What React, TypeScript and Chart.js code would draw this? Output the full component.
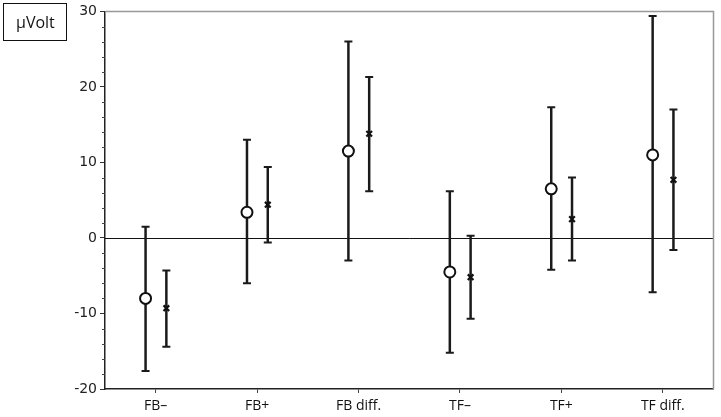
import React, { useEffect, useRef } from "react";
import { Chart, registerables } from "chart.js";

Chart.register(...registerables);

const categories = ["FB–", "FB+", "FB diff.", "TF–", "TF+", "TF diff."];
const circleMean = [-8.0, 3.4, 11.5, -4.5, 6.5, 11.0];
const circleLow = [-17.6, -6.0, -3.0, -15.2, -4.2, -7.2];
const circleHigh = [1.5, 13.0, 26.0, 6.2, 17.3, 29.4];
const crossMean = [-9.3, 4.4, 13.8, -5.2, 2.5, 7.7];
const crossLow = [-14.4, -0.6, 6.2, -10.7, -3.0, -1.6];
const crossHigh = [-4.3, 9.4, 21.3, 0.3, 8.0, 17.0];
const yTicks = [-20, -10, 0, 10, 20, 30];
const unitLabel = "µVolt";

const CIRCLE_OFFSET = -0.1;
const CROSS_OFFSET = 0.105;

const errorBarPlugin = {
  id: "errorBars",
  beforeDatasetsDraw(chart: any) {
    const { ctx, chartArea, scales } = chart;
    const xs = scales.x;
    const ys = scales.y;
    ctx.save();
    ctx.strokeStyle = "#111";
    ctx.lineWidth = 1;
    const y0 = Math.round(ys.getPixelForValue(0)) + 0.5;
    ctx.beginPath();
    ctx.moveTo(chartArea.left, y0);
    ctx.lineTo(chartArea.right, y0);
    ctx.stroke();
    const draw = (off: number, lo: number[], hi: number[]) => {
      categories.forEach((_, i) => {
        const x = xs.getPixelForValue(i + off);
        const yl = ys.getPixelForValue(lo[i]);
        const yh = ys.getPixelForValue(hi[i]);
        ctx.strokeStyle = "#1a1a1a";
        ctx.lineWidth = 2.5;
        ctx.beginPath();
        ctx.moveTo(x, yl);
        ctx.lineTo(x, yh);
        ctx.stroke();
        ctx.lineWidth = 2;
        ctx.beginPath();
        ctx.moveTo(x - 4, yl);
        ctx.lineTo(x + 4, yl);
        ctx.moveTo(x - 4, yh);
        ctx.lineTo(x + 4, yh);
        ctx.stroke();
      });
    };
    draw(CIRCLE_OFFSET, circleLow, circleHigh);
    draw(CROSS_OFFSET, crossLow, crossHigh);
    ctx.restore();
  },
  afterDraw(chart: any) {
    const { ctx, chartArea, scales } = chart;
    const ys = scales.y;
    ctx.save();
    ctx.strokeStyle = "#999";
    ctx.lineWidth = 1.5;
    ctx.beginPath();
    ctx.moveTo(chartArea.left, chartArea.top);
    ctx.lineTo(chartArea.right, chartArea.top);
    ctx.lineTo(chartArea.right, chartArea.bottom);
    ctx.stroke();
    ctx.strokeStyle = "#444";
    ctx.lineWidth = 1;
    for (let v = -20; v <= 30; v += 2) {
      if (v % 10 === 0) continue;
      const y = Math.round(ys.getPixelForValue(v)) + 0.5;
      ctx.beginPath();
      ctx.moveTo(chartArea.left - 3, y);
      ctx.lineTo(chartArea.left, y);
      ctx.stroke();
    }
    ctx.restore();
  },
};

export default function App() {
  const ref = useRef<HTMLCanvasElement>(null);
  useEffect(() => {
    if (!ref.current) return;
    const chart = new Chart(ref.current, {
      type: "scatter",
      data: {
        datasets: [
          {
            label: "circle",
            data: circleMean.map((v, i) => ({ x: i + CIRCLE_OFFSET, y: v })),
            pointStyle: "circle",
            pointRadius: 5.5,
            pointBorderWidth: 2,
            pointBorderColor: "#111",
            pointBackgroundColor: "#fff",
          },
          {
            label: "cross",
            data: crossMean.map((v, i) => ({ x: i + CROSS_OFFSET, y: v })),
            pointStyle: "crossRot",
            pointRadius: 4,
            pointBorderWidth: 2.2,
            pointBorderColor: "#111",
            pointBackgroundColor: "#111",
          },
        ],
      },
      options: {
        animation: false,
        responsive: false,
        maintainAspectRatio: false,
        layout: { padding: { top: 7, right: 4, left: 0, bottom: 0 } },
        plugins: { legend: { display: false }, tooltip: { enabled: false } },
        scales: {
          x: {
            type: "linear",
            min: -0.5,
            max: 5.5,
            afterBuildTicks: (scale: any) => {
              scale.ticks = categories.map((_, i) => ({ value: i }));
            },
            afterFit: (scale: any) => {
              scale.height = 28;
            },
            ticks: {
              callback: (v: any) => categories[Math.round(Number(v))] ?? "",
              font: { family: "'Open Sans', sans-serif", size: 14 },
              color: "#111",
              padding: 5,
              maxRotation: 0,
              autoSkip: false,
            },
            grid: {
              display: true,
              drawOnChartArea: false,
              drawTicks: true,
              tickLength: 4,
              color: "#444",
            },
            border: { display: true, color: "#222", width: 1.5 },
          },
          y: {
            type: "linear",
            min: -20,
            max: 30,
            afterBuildTicks: (scale: any) => {
              scale.ticks = yTicks.map((v) => ({ value: v }));
            },
            afterFit: (scale: any) => {
              scale.width = 105;
            },
            ticks: {
              font: { family: "'DejaVu Sans', sans-serif", size: 14 },
              color: "#222",
              padding: 3,
              autoSkip: false,
            },
            grid: {
              display: true,
              drawOnChartArea: false,
              drawTicks: true,
              tickLength: 5,
              color: "#333",
            },
            border: { display: true, color: "#222", width: 1.5 },
          },
        },
      },
      plugins: [errorBarPlugin],
    } as any);
    return () => chart.destroy();
  }, []);

  return (
    <div style={{ position: "fixed", left: 0, top: 0, width: 721, height: 417, background: "#fff" }}>
      <canvas ref={ref} width={721} height={417} style={{ display: "block" }} />
      <div
        style={{
          position: "absolute",
          left: 3,
          top: 3,
          width: 64,
          height: 38,
          border: "1px solid #111",
          fontFamily: "'Open Sans', sans-serif",
          fontSize: 16,
          color: "#111",
          display: "flex",
          alignItems: "center",
          paddingLeft: 12,
          boxSizing: "border-box",
        }}
      >
        {unitLabel}
      </div>
    </div>
  );
}
